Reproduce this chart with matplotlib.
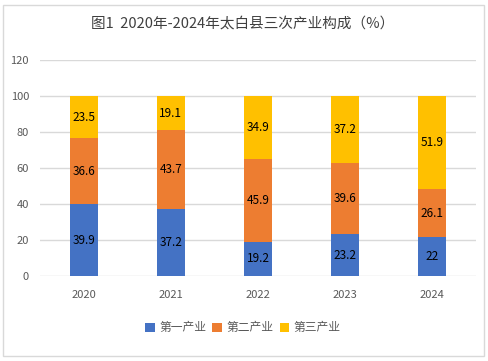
import matplotlib
matplotlib.use("Agg")
import matplotlib.pyplot as plt
import matplotlib.patches as patches
import numpy as np

plt.rcParams['font.family'] = ['Noto Sans CJK SC', 'DejaVu Sans']

years = ["2020", "2021", "2022", "2023", "2024"]
primary = [39.9, 37.2, 19.2, 23.2, 22]
secondary = [36.6, 43.7, 45.9, 39.6, 26.1]
tertiary = [23.5, 19.1, 34.9, 37.2, 51.9]
series_names = ["第一产业", "第二产业", "第三产业"]
colors = ["#4472C4", "#ED7D31", "#FFC000"]

fig = plt.figure(figsize=(4.89, 3.61), dpi=100)
ax = fig.add_axes([0.082, 0.235, 0.891, 0.599])

# figure border
fig.patches.append(patches.Rectangle((0.006, 0.014), 0.984, 0.972, transform=fig.transFigure,
                                     fill=False, edgecolor="#D9D9D9", linewidth=1))

x = np.arange(len(years))
bottom = np.zeros(len(years))
for vals, name, c in zip([primary, secondary, tertiary], series_names, colors):
    vals = np.array(vals)
    ax.bar(x, vals, width=0.32, bottom=bottom, color=c, label=name, zorder=3)
    for xi, b, v in zip(x, bottom, vals):
        ax.text(xi, b + v / 2, f"{v:g}", ha='center', va='center', fontsize=8.5,
                color='black', zorder=4)
    bottom += vals

ax.set_xlim(-0.5, len(years) - 0.5)
ax.set_ylim(0, 120)
ax.set_yticks(range(0, 121, 20))
ax.set_xticks(x)
ax.set_xticklabels(years)
ax.grid(True, axis='y', color="#D9D9D9", linewidth=1, zorder=0)
for s in ax.spines.values():
    s.set_visible(False)
ax.tick_params(length=0, labelsize=8, colors="#595959", pad=8)
ax.tick_params(axis='x', pad=10)

fig.text(0.497, 0.934, "图1  2020年-2024年太白县三次产业构成（%）", ha='center', va='center',
         fontsize=10.5, color="#404040")
fig.legend(loc='center', bbox_to_anchor=(0.497, 0.092), ncol=3, frameon=False, fontsize=8.5,
           handlelength=0.8, handleheight=0.8, handletextpad=0.4, columnspacing=0.5,
           labelcolor="#595959")

fig.savefig("out.png", dpi=100)
